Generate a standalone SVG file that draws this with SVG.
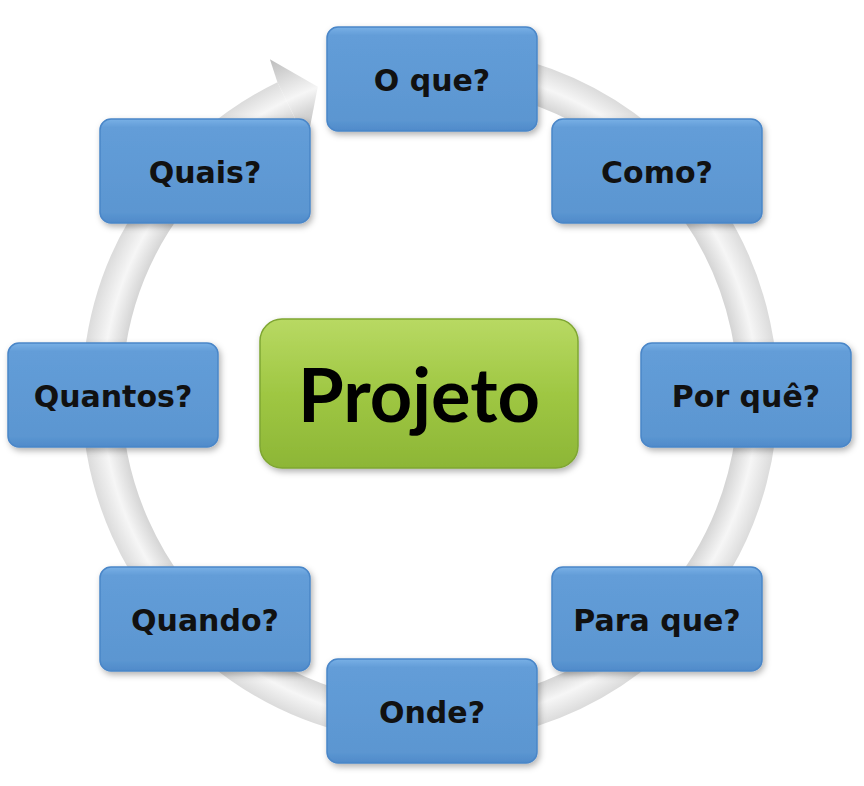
<svg xmlns="http://www.w3.org/2000/svg" width="864" height="786" viewBox="0 0 864 786">
  <defs>
    <radialGradient id="ringGrad" gradientUnits="userSpaceOnUse" cx="430" cy="395" r="372">
      <stop offset="0.80" stop-color="#c9c9c9"/>
      <stop offset="0.83" stop-color="#d6d6d6"/>
      <stop offset="0.88" stop-color="#f6f6f6"/>
      <stop offset="0.93" stop-color="#dedede"/>
      <stop offset="0.96" stop-color="#cfcfcf"/>
      <stop offset="1" stop-color="#bdbdbd"/>
    </radialGradient>
    <linearGradient id="blueGrad" x1="0" y1="0" x2="0" y2="1">
      <stop offset="0" stop-color="#78b0e6"/>
      <stop offset="0.08" stop-color="#639dd8"/>
      <stop offset="0.9" stop-color="#5b96d1"/>
      <stop offset="1" stop-color="#4f8aca"/>
    </linearGradient>
    <linearGradient id="greenGrad" x1="0" y1="0" x2="0" y2="1">
      <stop offset="0" stop-color="#b8d963"/>
      <stop offset="0.5" stop-color="#9fc743"/>
      <stop offset="1" stop-color="#8db636"/>
    </linearGradient>
    <filter id="shadow" x="-10%" y="-10%" width="130%" height="130%">
      <feDropShadow dx="2" dy="3" stdDeviation="3" flood-color="#000" flood-opacity="0.3"/>
    </filter>
    <style>
      .box { fill: url(#blueGrad); stroke: #4a86c8; stroke-width: 1.5; filter: url(#shadow); }
      .edge { fill: none; stroke: #2f6fc0; stroke-width: 3; }
      .lbl { font-family: "DejaVu Sans", Verdana, sans-serif; font-weight: bold; font-size: 30px; fill: #111; text-anchor: middle; }
      .main { font-family: Lato, "Liberation Sans", sans-serif; font-weight: bold; font-size: 74px; fill: #000; text-anchor: middle; }
    </style>
  </defs>
  <rect width="864" height="786" fill="#ffffff"/>

  <g id="connectors">
    <path d="M 373 72 A 328 328 0 1 1 286.2 100.2" fill="none" stroke="url(#ringGrad)" stroke-width="40"/>
    <polygon points="277.4,82.2 269.9,59.2 317.8,86.8 307.7,138.7 295,118.2" fill="url(#ringGrad)"/>
  </g>

  <g id="node-oque">
    <rect class="box" x="327" y="27" width="210" height="104" rx="11"/>
    <text class="lbl" x="432" y="91">O que?</text>
  </g>
  <g id="node-como">
    <rect class="box" x="552" y="119" width="210" height="104" rx="11"/>
    <text class="lbl" x="657" y="183">Como?</text>
  </g>
  <g id="node-porque">
    <rect class="box" x="641" y="343" width="210" height="104" rx="11"/>
    <text class="lbl" x="746" y="407">Por quê?</text>
  </g>
  <g id="node-paraque">
    <rect class="box" x="552" y="567" width="210" height="104" rx="11"/>
    <text class="lbl" x="657" y="631">Para que?</text>
  </g>
  <g id="node-onde">
    <rect class="box" x="327" y="659" width="210" height="104" rx="11"/>
    <text class="lbl" x="432" y="723">Onde?</text>
  </g>
  <g id="node-quando">
    <rect class="box" x="100" y="567" width="210" height="104" rx="11"/>
    <text class="lbl" x="205" y="631">Quando?</text>
  </g>
  <g id="node-quantos">
    <rect class="box" x="8" y="343" width="210" height="104" rx="11"/>
    <text class="lbl" x="113" y="407">Quantos?</text>
  </g>
  <g id="node-quais">
    <rect class="box" x="100" y="119" width="210" height="104" rx="11"/>
    <text class="lbl" x="205" y="183">Quais?</text>
  </g>

  <g id="node-projeto">
    <rect x="260" y="319" width="318" height="149" rx="22" fill="url(#greenGrad)" stroke="#7fa633" stroke-width="1.5" filter="url(#shadow)"/>
    <text class="main" x="419" y="422">Projeto</text>
  </g>
</svg>
